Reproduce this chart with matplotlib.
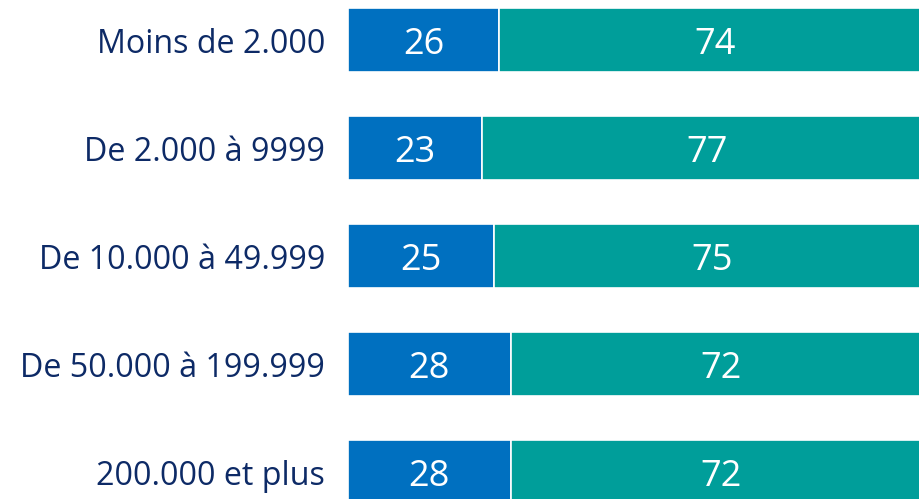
import matplotlib
matplotlib.use("Agg")
import matplotlib.pyplot as plt
import numpy as np

categories = ["Moins de 2.000", "De 2.000 à 9999", "De 10.000 à 49.999",
              "De 50.000 à 199.999", "200.000 et plus"]
series_a = [26, 23, 25, 28, 28]
series_b = [74, 77, 75, 72, 72]

color_a = "#0070C0"
color_b = "#009E9A"
text_color = "#0D2A66"

plt.rcParams['font.family'] = ['Open Sans', 'DejaVu Sans']

W, H = 919, 499
fig = plt.figure(figsize=(W / 100, H / 100), dpi=100)
left_px = 347.5
full_px = 584.0
ax = fig.add_axes([left_px / W, 0, full_px / W, 1])

y = np.arange(len(categories))
bh = 64 / 108
ax.barh(y, series_a, height=bh, color=color_a, edgecolor="white", linewidth=1.2)
ax.barh(y, series_b, left=series_a, height=bh, color=color_b, edgecolor="white", linewidth=1.2)

for i in range(len(categories)):
    ax.text(series_a[i] / 2, y[i], str(series_a[i]), ha="center", va="center_baseline",
            color="white", fontsize=26)
    ax.text(series_a[i] + series_b[i] / 2, y[i], str(series_b[i]), ha="center",
            va="center_baseline", color="white", fontsize=26)

ax.set_xlim(0, 100)
ax.set_ylim((499 - 40) / 108, -40 / 108)
ax.set_yticks(y)
ax.set_yticklabels(categories, fontsize=23.2, color=text_color, va="center_baseline")
ax.tick_params(axis="y", length=0, pad=16)
ax.set_xticks([])
for s in ax.spines.values():
    s.set_visible(False)

fig.savefig("out.png", dpi=100)
